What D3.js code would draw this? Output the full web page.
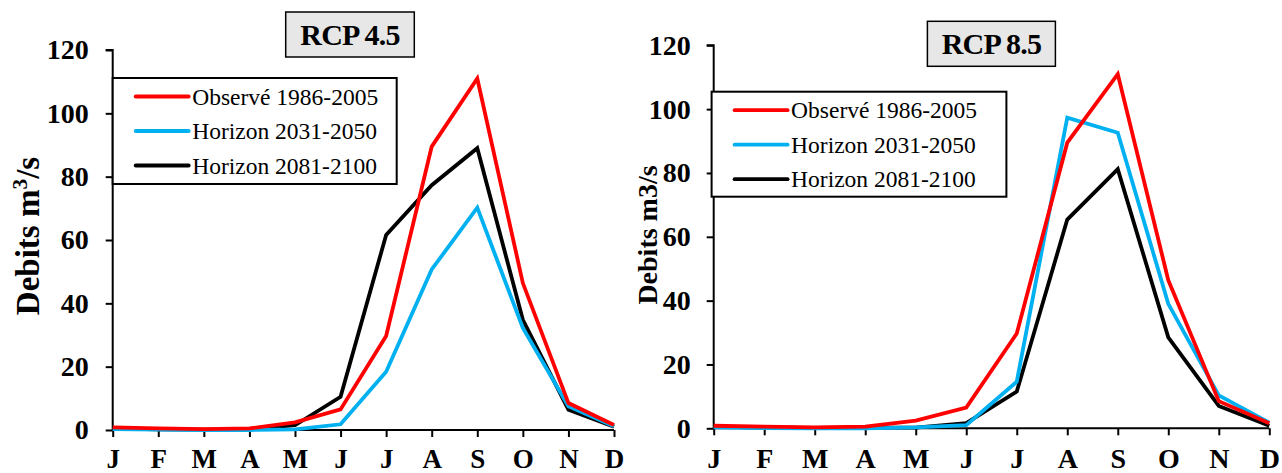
<!DOCTYPE html>
<html><head><meta charset="utf-8">
<script src="https://cdn.jsdelivr.net/npm/d3@7"></script>
<style>body{margin:0;background:#fff}svg{display:block}</style>
</head><body>
<svg id="c" width="1282" height="473"></svg>
<script>
const months = ["J","F","M","A","M","J","J","A","S","O","N","D"];
const yTicks = [0,20,40,60,80,100,120];
const seriesNames = ["Observé 1986-2005","Horizon 2031-2050","Horizon 2081-2100"];
const seriesColors = ["#ff0000","#00b0f0","#000000"];
const observed = [0.8,0.5,0.3,0.5,2.4,6.5,29.7,89.5,111,46.4,8.5,1.6];
const rcp45_2031 = [0.3,0.1,0,0,0.2,1.8,18.4,50.7,70.2,32.2,7.5,1.2];
const rcp45_2081 = [0.5,0.2,0.1,0.2,1.5,10.5,61.6,77.3,89,34.8,6.4,1.0];
const rcp85_2031 = [0.3,0.1,0,0,0.3,1.0,14.6,97.3,92.6,39,10.3,1.8];
const rcp85_2081 = [0.5,0.2,0.1,0.2,0.2,1.6,11.5,65.4,81.2,28.5,7.0,0.8];

const svg = d3.select("#c");
const serif = "'Liberation Serif','Times New Roman',serif";

function panel(cfg){
  const g = svg.append("g");
  const x = d3.scalePoint().domain(d3.range(12)).range([cfg.x0, cfg.x1]);
  const y = d3.scaleLinear().domain([0,120]).range([cfg.y0, cfg.y1]);
  // y axis
  const ya = g.append("g").attr("transform",`translate(${cfg.x0},0)`)
    .call(d3.axisLeft(y).tickValues(yTicks).tickSize(7).tickPadding(cfg.ypad).tickFormat(d3.format("d")));
  ya.select(".domain").attr("stroke","#000").attr("stroke-width",2).attr("d",`M-7,${cfg.y1}H0V${cfg.y0}`);
  ya.selectAll(".tick line").attr("stroke","#000").attr("stroke-width",2);
  ya.selectAll(".tick text").attr("font-family",serif).attr("font-weight","bold").attr("font-size",cfg.yfs).attr("fill","#000");
  // x axis
  const xa = g.append("g").attr("transform",`translate(0,${cfg.y0})`)
    .call(d3.axisBottom(x).tickSize(7).tickPadding(0).tickFormat(i=>months[i]));
  xa.select(".domain").attr("stroke","#000").attr("stroke-width",2).attr("d",`M${cfg.x0},0H${cfg.x1}`);
  xa.selectAll(".tick line").attr("stroke","#000").attr("stroke-width",2);
  xa.selectAll(".tick text").attr("font-family",serif).attr("font-weight","bold").attr("font-size",cfg.xfs)
    .attr("fill","#000").attr("dy",null).attr("y",cfg.xbase - cfg.y0);
  // lines
  const line = d3.line().x((d,i)=>x(i)).y(d=>y(d));
  const data = cfg.series;
  [2,1,0].forEach(k=>{
    g.append("path").datum(data[k]).attr("d",line).attr("fill","none")
      .attr("stroke",seriesColors[k]).attr("stroke-width",3.8).attr("stroke-linejoin","miter");
  });
  // title box
  g.append("rect").attr("x",cfg.tb[0]).attr("y",cfg.tb[1]).attr("width",cfg.tb[2]).attr("height",cfg.tb[3])
    .attr("fill","#e7e7e7").attr("stroke","#000").attr("stroke-width",1.5);
  g.append("text").attr("x",cfg.tb[0]+cfg.tb[2]/2).attr("y",cfg.tb[1]+cfg.tb[3]/2+10)
    .attr("text-anchor","middle").attr("font-family",serif).attr("font-weight","bold").attr("font-size",30)
    .attr("letter-spacing",-0.8).text(cfg.title);
  // legend
  const lb = cfg.lb;
  g.append("rect").attr("x",lb[0]).attr("y",lb[1]).attr("width",lb[2]).attr("height",lb[3])
    .attr("fill","#fff").attr("stroke","#000").attr("stroke-width",2);
  seriesNames.forEach((n,k)=>{
    const yy = lb[1] + 18.5 + k*34.5;
    g.append("line").attr("x1",lb[0]+23).attr("x2",lb[0]+76).attr("y1",yy).attr("y2",yy)
      .attr("stroke",seriesColors[k]).attr("stroke-width",3.8).attr("stroke-linecap","round");
    g.append("text").attr("x",lb[0]+79.5).attr("y",yy+8).attr("font-family",serif).attr("font-size",23.5)
      .attr("fill","#000").text(n);
  });
  // y title
  const t = g.append("text").attr("transform",`translate(${cfg.yt[0]},${cfg.yt[1]}) rotate(-90)`)
    .attr("text-anchor","middle").attr("font-family",serif).attr("font-weight","bold").attr("font-size",cfg.ytSize).attr("fill","#000");
  if(cfg.sup){
    t.append("tspan").text("Debits m");
    t.append("tspan").attr("font-size",cfg.ytSize*0.65).attr("dy",-12).text("3");
    t.append("tspan").attr("dy",12).text("/s");
  } else {
    t.text("Debits m3/s");
  }
}

panel({x0:112.7,x1:614,y0:430,y1:50,ypad:17,yfs:28,xfs:27,xbase:468,series:[observed,rcp45_2031,rcp45_2081],
  title:"RCP 4.5",tb:[285.7,12,128.6,45],lb:[112.7,78,284,106],yt:[39,236],ytSize:33,sup:true});
panel({x0:713.7,x1:1269.3,y0:428.3,y1:45.3,ypad:16,yfs:28,xfs:28,xbase:468,series:[observed,rcp85_2031,rcp85_2081],
  title:"RCP 8.5",tb:[927.4,21.3,128,45],lb:[711.6,91.7,294.8,105],yt:[657,235],ytSize:28,sup:false});
</script>
</body></html>
